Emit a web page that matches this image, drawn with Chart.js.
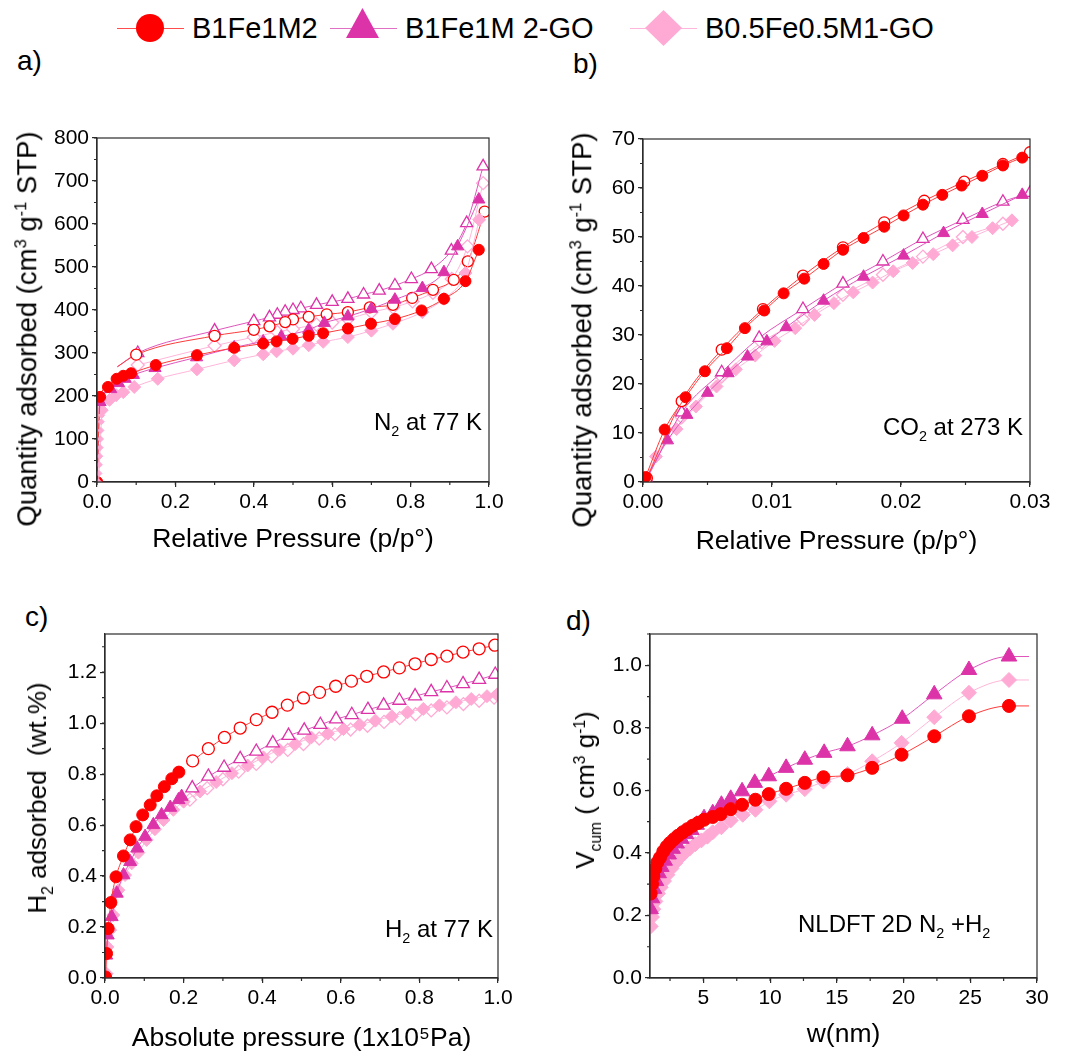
<!DOCTYPE html>
<html>
<head>
<meta charset="utf-8">
<script src="https://cdn.jsdelivr.net/npm/chart.js@4.4.1/dist/chart.umd.min.js"></script>
<style>
	body {
		margin: 0;
		width: 1070px;
		height: 1053px;
		position: relative;
		overflow: hidden;
		background: #fff;
		color: #000;
		font-family: 'Liberation Sans', Arial, sans-serif;
	}
	canvas { position: absolute; }
	.txt { position: absolute; white-space: nowrap; }
	.legend-text { font-size: 29px; line-height: 29px; top: 14px; }
	.panel-label { font-size: 28px; line-height: 28px; }
	.note { font-size: 24px; line-height: 24px; }
	.ytitle {
		position: absolute;
		font-size: 26px;
		line-height: 26px;
		white-space: nowrap;
		transform: translate(-50%, -50%) rotate(-90deg);
	}
	.ytitle.big { font-size: 27.5px; line-height: 27.5px; }
	sup { font-size: 0.6em; vertical-align: 0.6em; line-height: 0; }
	sub { font-size: 0.6em; vertical-align: -0.45em; line-height: 0; }
	.leg-line { position: absolute; height: 1px; top: 28px; width: 67px; }
	.mark { position: absolute; }
</style>
</head>
<body>

<div class="leg-line" style="left:117px;background:#ff4d4d"></div>
<div class="mark" style="left:136px;top:14px;width:28px;height:28px;border-radius:50%;background:#ff0000"></div>
<div class="txt legend-text" style="left:192px">B1Fe1M2</div>
<div class="leg-line" style="left:330px;background:#e070c4"></div>
<div class="mark" style="left:346px;top:8px;width:33px;height:30px;background:#dd33a8;clip-path:polygon(50% 0,100% 100%,0 100%)"></div>
<div class="txt legend-text" style="left:405px">B1Fe1M 2-GO</div>
<div class="leg-line" style="left:630px;background:#ffb6da"></div>
<div class="mark" style="left:645px;top:10px;width:37px;height:36px;background:#ffaad4;clip-path:polygon(50% 0,100% 50%,50% 100%,0 50%)"></div>
<div class="txt legend-text" style="left:705px">B0.5Fe0.5M1-GO</div>

<div class="txt panel-label" style="left:17px;top:47px">a)</div>
<div class="txt panel-label" style="left:573px;top:50px">b)</div>
<div class="txt panel-label" style="left:25px;top:603px">c)</div>
<div class="txt panel-label" style="left:566px;top:607px">d)</div>

<canvas id="chart-n2" width="530" height="480" style="left:0;top:100px"></canvas>
<canvas id="chart-co2" width="540" height="480" style="left:530px;top:100px"></canvas>
<canvas id="chart-h2" width="530" height="463" style="left:0;top:590px"></canvas>
<canvas id="chart-dft" width="540" height="463" style="left:530px;top:590px"></canvas>

<div class="ytitle big" style="left:27px;top:329px">Quantity adsorbed (cm<sup>3</sup> g<sup>-1</sup> STP)</div>
<div class="ytitle big" style="left:582px;top:330px">Quantity adsorbed (cm<sup>3</sup> g<sup>-1</sup> STP)</div>
<div class="ytitle" style="left:37px;top:798px">H<sub>2</sub> adsorbed&nbsp; (wt.%)</div>
<div class="ytitle" style="left:585px;top:790px">V<sub>cum</sub> ( cm<sup>3</sup> g<sup>-1</sup>)</div>

<div class="txt note" style="right:588px;top:410px">N<sub>2</sub> at 77 K</div>
<div class="txt note" style="right:47px;top:415px">CO<sub>2</sub> at 273 K</div>
<div class="txt note" style="right:577px;top:917px">H<sub>2</sub> at 77 K</div>
<div class="txt note" style="left:798px;top:912px">NLDFT 2D N<sub>2</sub> +H<sub>2</sub></div>

<script>
// a) N2 at 77 K  [p/p0, cm3/g]
const n2PinkLow = [[0.004, 0], [0.005, 20], [0.006, 40], [0.007, 60], [0.008, 80], [0.009, 100], [0.01, 120], [0.011, 140], [0.012, 155]]
const n2RedAds = [[0.0005, 0], [0.008, 198], [0.028, 221], [0.05, 240], [0.067, 247], [0.087, 253], [0.15, 272], [0.255, 295], [0.35, 312], [0.424, 322], [0.458, 327], [0.499, 333], [0.54, 340], [0.577, 346], [0.64, 357], [0.699, 368], [0.76, 379], [0.828, 399], [0.885, 426], [0.94, 467], [0.974, 540]]
const n2RedDes = [[0.989, 629], [0.946, 513], [0.91, 470], [0.857, 447], [0.804, 428], [0.755, 412], [0.696, 406], [0.64, 395], [0.586, 390], [0.54, 384], [0.5, 378], [0.48, 372], [0.44, 362], [0.4, 354], [0.3, 340], [0.1, 296]]
const n2PurpleAds = [[0.0005, 0], [0.008, 186], [0.035, 216], [0.055, 230], [0.072, 240], [0.093, 249], [0.148, 265], [0.254, 290], [0.35, 313], [0.424, 327], [0.47, 338], [0.54, 354], [0.58, 370], [0.64, 385], [0.7, 403], [0.76, 424], [0.83, 451], [0.885, 488], [0.92, 548], [0.974, 657]]
const n2PurpleDes = [[0.985, 734], [0.943, 602], [0.904, 538], [0.853, 495], [0.802, 472], [0.76, 457], [0.72, 445], [0.68, 436], [0.64, 426], [0.6, 419], [0.56, 412], [0.52, 404], [0.5, 400], [0.48, 396], [0.46, 389], [0.44, 383], [0.4, 374], [0.3, 352], [0.104, 300]]
const n2PinkAds = [[0.012, 167], [0.032, 191], [0.049, 202], [0.067, 209], [0.095, 221], [0.155, 240], [0.255, 262], [0.35, 283], [0.424, 297], [0.458, 304], [0.5, 310], [0.54, 318], [0.577, 326], [0.64, 337], [0.7, 352], [0.755, 368], [0.83, 395], [0.885, 426], [0.94, 486], [0.975, 610]]
const n2PinkDes = [[0.985, 695], [0.945, 548], [0.905, 472], [0.857, 440], [0.805, 420], [0.755, 406], [0.7, 395], [0.64, 379], [0.6, 371], [0.56, 366], [0.5, 356], [0.46, 349], [0.4, 337], [0.3, 317], [0.104, 272]]
// desorption branches close near p/p0 = 0.05 (line only, no marker)
const n2DesClose = { red: [0.052, 268], purple: [0.052, 268] }

// b) CO2 at 273 K
const co2RedAds = [[0.0002, 1], [0.00168, 10.7], [0.0033, 17.3], [0.0048, 22.6], [0.0065, 27.3], [0.0079, 31.4], [0.0094, 35.0], [0.0109, 38.5], [0.0125, 41.5], [0.014, 44.5], [0.0155, 47.4], [0.0171, 49.8], [0.0187, 52.1], [0.0202, 54.4], [0.0217, 56.6], [0.0232, 58.6], [0.0247, 60.5], [0.0263, 62.5], [0.0279, 64.6], [0.0294, 66.2]]
const co2RedDes = [[0.03, 67.3], [0.0279, 64.9], [0.0249, 61.3], [0.0218, 57.4], [0.0187, 53.0], [0.0155, 47.9], [0.0124, 42.1], [0.0093, 35.3], [0.0061, 27.0], [0.003, 16.5], [0.0003, 0.8]]
const co2PurpleAds = [[0.0002, 0.5], [0.0019, 8.5], [0.0034, 13.7], [0.005, 18.2], [0.0066, 22.2], [0.0081, 25.6], [0.0096, 28.7], [0.0111, 31.6], [0.014, 37.0], [0.0171, 41.9], [0.0202, 46.2], [0.0233, 50.8], [0.0263, 54.7], [0.0294, 58.6]]
const co2PurpleDes = [[0.03, 59], [0.0279, 57.2], [0.0248, 53.5], [0.0217, 49.6], [0.0186, 45.0], [0.0155, 40.5], [0.0124, 35.3], [0.009, 29.4], [0.0061, 22.4], [0.003, 14.2], [0.0003, 0.6]]
const co2PinkAds = [[0.0002, 0.4], [0.001, 5.2], [0.0026, 10.8], [0.0041, 15.4], [0.0057, 19.5], [0.0072, 23.0], [0.0087, 25.8], [0.0102, 28.8], [0.0118, 31.4], [0.0133, 34.1], [0.0148, 36.5], [0.0163, 38.7], [0.0178, 40.7], [0.0194, 43.0], [0.0209, 44.7], [0.0225, 46.5], [0.024, 48.3], [0.0255, 50.0], [0.0271, 51.8], [0.0286, 53.4]]
const co2PinkDes = [[0.0279, 52.7], [0.0248, 50.0], [0.0217, 46.0], [0.0186, 42.3], [0.0155, 38.2], [0.0124, 33.2], [0.0092, 28.5], [0.0061, 21.5], [0.003, 13.2]]

// c) H2 at 77 K  [1e5 Pa, wt.%]
const h2RedAds = [[0.0015, 0.004], [0.004, 0.096], [0.008, 0.194], [0.015, 0.296], [0.028, 0.397], [0.047, 0.479], [0.064, 0.542], [0.079, 0.594], [0.096, 0.64], [0.115, 0.679], [0.132, 0.715], [0.151, 0.751], [0.17, 0.782], [0.188, 0.808]]
const h2RedOpen = [[0.223, 0.852], [0.263, 0.9], [0.304, 0.944], [0.344, 0.981], [0.385, 1.014], [0.425, 1.043], [0.464, 1.071], [0.505, 1.099], [0.546, 1.121], [0.587, 1.145], [0.627, 1.165], [0.666, 1.184], [0.709, 1.201], [0.749, 1.217], [0.789, 1.233], [0.83, 1.25], [0.87, 1.263], [0.911, 1.279], [0.952, 1.292], [0.992, 1.306]]
const h2PurpleAds = [[0.003, 0.089], [0.007, 0.168], [0.017, 0.24], [0.03, 0.332], [0.047, 0.404], [0.064, 0.456], [0.082, 0.509], [0.102, 0.555], [0.123, 0.601], [0.144, 0.64], [0.166, 0.669], [0.187, 0.699], [0.195, 0.712]]
const h2PurpleOpen = [[0.222, 0.745], [0.263, 0.791], [0.303, 0.826], [0.344, 0.86], [0.385, 0.889], [0.427, 0.922], [0.467, 0.951], [0.507, 0.972], [0.548, 0.994], [0.588, 1.016], [0.628, 1.033], [0.669, 1.053], [0.709, 1.07], [0.749, 1.089], [0.789, 1.106], [0.83, 1.123], [0.87, 1.138], [0.911, 1.154], [0.952, 1.171], [0.993, 1.191]]
const h2PinkAds = [[0.004, 0.017], [0.006, 0.122], [0.013, 0.188], [0.021, 0.247], [0.034, 0.345], [0.051, 0.404], [0.068, 0.45], [0.085, 0.492], [0.106, 0.542], [0.127, 0.584], [0.149, 0.62], [0.174, 0.66], [0.2, 0.692], [0.242, 0.732], [0.283, 0.769], [0.323, 0.804], [0.363, 0.834], [0.403, 0.866], [0.444, 0.896], [0.484, 0.918], [0.525, 0.944], [0.567, 0.959], [0.607, 0.977], [0.648, 0.994], [0.688, 1.01], [0.73, 1.027], [0.77, 1.043], [0.81, 1.056], [0.851, 1.07], [0.893, 1.082], [0.932, 1.095], [0.972, 1.106], [0.997, 1.112]]
const h2PinkOpen = [[0.216, 0.7], [0.26, 0.745], [0.3, 0.78], [0.34, 0.81], [0.385, 0.84], [0.424, 0.87], [0.465, 0.895], [0.505, 0.918], [0.545, 0.94], [0.585, 0.957], [0.625, 0.975], [0.668, 0.99], [0.71, 1.005], [0.75, 1.02], [0.79, 1.035], [0.83, 1.05], [0.87, 1.062], [0.912, 1.075], [0.952, 1.088], [0.99, 1.1]]

// d) NLDFT cumulative pore volume  [nm, cm3/g]
const dftRed = [[1.05, 0.27], [1.15, 0.3], [1.25, 0.325], [1.4, 0.35], [1.55, 0.37], [1.75, 0.385], [2.0, 0.405], [2.25, 0.42], [2.5, 0.432], [2.8, 0.444], [3.1, 0.455], [3.45, 0.466], [3.8, 0.476], [4.2, 0.487], [4.6, 0.496], [5.05, 0.506], [5.7, 0.515], [6.3, 0.524], [7.05, 0.54], [7.9, 0.554], [8.9, 0.57], [9.9, 0.588], [11.2, 0.605], [12.6, 0.624], [14.0, 0.642], [15.8, 0.648], [17.65, 0.672], [19.85, 0.714], [22.3, 0.773], [24.9, 0.837], [27.9, 0.87]]
const dftPurple = [[1.05, 0.22], [1.15, 0.255], [1.3, 0.285], [1.45, 0.31], [1.65, 0.335], [1.85, 0.355], [2.1, 0.375], [2.4, 0.395], [2.7, 0.413], [3.0, 0.43], [3.35, 0.445], [3.7, 0.46], [4.1, 0.473], [4.5, 0.49], [5.05, 0.511], [5.7, 0.527], [6.35, 0.554], [7.05, 0.573], [7.9, 0.597], [8.85, 0.624], [9.9, 0.645], [11.2, 0.672], [12.6, 0.698], [14.05, 0.72], [15.8, 0.741], [17.65, 0.776], [19.9, 0.829], [22.3, 0.907], [24.9, 0.985], [27.9, 1.028]]
const dftPink = [[1.05, 0.165], [1.15, 0.195], [1.25, 0.22], [1.4, 0.245], [1.6, 0.27], [1.8, 0.29], [2.05, 0.31], [2.3, 0.33], [2.6, 0.35], [2.9, 0.368], [3.25, 0.385], [3.6, 0.4], [4.0, 0.415], [4.4, 0.428], [4.85, 0.44], [5.3, 0.452], [5.7, 0.466], [6.35, 0.482], [7.05, 0.504], [7.95, 0.522], [8.9, 0.538], [9.95, 0.565], [11.2, 0.586], [12.6, 0.604], [14.0, 0.628], [15.8, 0.652], [17.65, 0.693], [19.85, 0.752], [22.3, 0.834], [24.9, 0.912], [27.9, 0.953]]
const dftFitEnd = 29.4

// axis ticks
const n2XTicks = [0, 0.2, 0.4, 0.6, 0.8, 1.0]
const n2YTicks = [0, 100, 200, 300, 400, 500, 600, 700, 800]
const co2XTicks = [0, 0.01, 0.02, 0.03]
const co2YTicks = [0, 10, 20, 30, 40, 50, 60, 70]
const h2XTicks = [0, 0.2, 0.4, 0.6, 0.8, 1.0]
const h2YTicks = [0, 0.2, 0.4, 0.6, 0.8, 1.0, 1.2]
const dftXTicks = [5, 10, 15, 20, 25, 30]
const dftYTicks = [0, 0.2, 0.4, 0.6, 0.8, 1.0]

const FONT = "'Liberation Sans', Arial, sans-serif"
const AXIS = '#2b2b2b'
const RED = '#ff0000'
const RED_LINE = '#ff3b3b'
const MAG = '#dd33a8'
const MAG_LINE = '#df55bb'
const PINK = '#ffaad4'
const PINK_LINE = '#ffb6da'

const minorValues = (scale, step) => {
	const out = []
	if (!step) return out
	for (let v = Math.ceil(scale.min / step - 1e-9) * step; v <= scale.max + 1e-9; v += step) {
		out.push(v)
	}
	return out
}

const framePlugin = {
	id: 'frame',
	afterDatasetsDraw(chart, args, opts) {
		const { ctx, chartArea: a, scales } = chart
		ctx.save()
		ctx.strokeStyle = AXIS
		ctx.lineWidth = 1.2
		ctx.strokeRect(a.left, a.top, a.right - a.left, a.bottom - a.top)
		ctx.beginPath()
		minorValues(scales.x, opts.xMinor).forEach((v) => {
			const px = scales.x.getPixelForValue(v)
			ctx.moveTo(px, a.bottom)
			ctx.lineTo(px, a.bottom + 3)
		})
		minorValues(scales.y, opts.yMinor).forEach((v) => {
			const py = scales.y.getPixelForValue(v)
			ctx.moveTo(a.left, py)
			ctx.lineTo(a.left - 3, py)
		})
		ctx.stroke()
		ctx.restore()
	},
}

// tail: extra [x, y] at the end of the curve drawn as line only
function series(points, color, lineColor, shape, radius, filled, tail) {
	const data = points.map(([x, y]) => ({ x, y }))
	if (tail) data.push({ x: tail[0], y: tail[1] })
	return {
		data,
		showLine: true,
		borderColor: lineColor,
		borderWidth: 1,
		cubicInterpolationMode: 'monotone',
		pointStyle: shape,
		pointRadius: tail ? (c) => (c.dataIndex === points.length ? 0 : radius) : radius,
		pointHoverRadius: radius,
		pointBackgroundColor: filled ? color : '#ffffff',
		pointBorderColor: color,
		pointBorderWidth: filled ? 1 : 1.3,
	}
}

const flatTail = (points, x) => [x, points[points.length - 1][1]]

function axis(a, horizontal) {
	return {
		type: 'linear',
		min: a.min,
		max: a.max,
		afterBuildTicks: (s) => {
			s.ticks = a.ticks.map((value) => ({ value }))
		},
		afterFit: (s) => {
			if (horizontal) s.height = a.size
			else s.width = a.size
		},
		ticks: {
			color: '#000',
			font: { family: FONT, size: 21 },
			padding: 3,
			maxRotation: 0,
			autoSkip: false,
			callback: (v) => a.fmt(v),
		},
		grid: { drawOnChartArea: false, drawTicks: true, tickLength: 5, color: AXIS, lineWidth: 1.2 },
		border: { display: true, color: AXIS, width: 1.2 },
		title: a.title
			? {
					display: true,
					text: a.title,
					color: '#000',
					font: { family: FONT, size: 26.5, lineHeight: 1 },
					padding: { top: 0, bottom: a.titlePad },
				}
			: { display: false },
	}
}

function makePanel(id, cfg) {
	new Chart(document.getElementById(id), {
		type: 'scatter',
		data: { datasets: cfg.datasets },
		options: {
			responsive: false,
			animation: false,
			devicePixelRatio: 1,
			layout: { padding: { left: 0, top: cfg.top, right: cfg.right, bottom: 0 } },
			plugins: {
				legend: { display: false },
				tooltip: { enabled: false },
				frame: { xMinor: cfg.x.minor, yMinor: cfg.y.minor },
			},
			scales: {
				x: axis(cfg.x, true),
				y: axis(cfg.y, false),
			},
		},
		plugins: [framePlugin],
	})
}

makePanel('chart-n2', {
	top: 38,
	right: 41,
	x: { min: 0, max: 1, ticks: n2XTicks, minor: 0.1, size: 98, fmt: (v) => v.toFixed(1), title: 'Relative Pressure (p/p°)', titlePad: 27 },
	y: { min: 0, max: 800, ticks: n2YTicks, minor: 50, size: 97, fmt: (v) => String(v) },
	datasets: [
		series(n2PinkLow, PINK, PINK_LINE, 'rectRot', 3, true),
		series(n2RedAds, RED, RED_LINE, 'circle', 5.5, true),
		series(n2PurpleAds, MAG, MAG_LINE, 'triangle', 7, true),
		series(n2PinkAds, PINK, PINK_LINE, 'rectRot', 6.5, true),
		series(n2RedDes, RED, RED_LINE, 'circle', 5.5, false, n2DesClose.red),
		series(n2PurpleDes, MAG, MAG_LINE, 'triangle', 7, false, n2DesClose.purple),
		series(n2PinkDes, PINK, PINK_LINE, 'rectRot', 6.5, false),
	],
})

makePanel('chart-co2', {
	top: 39,
	right: 40,
	x: { min: 0, max: 0.03, ticks: co2XTicks, minor: 0.005, size: 98, fmt: (v) => v.toFixed(2), title: 'Relative Pressure (p/p°)', titlePad: 25 },
	y: { min: 0, max: 70, ticks: co2YTicks, minor: 5, size: 113, fmt: (v) => String(v) },
	datasets: [
		series(co2RedAds, RED, RED_LINE, 'circle', 5.5, true),
		series(co2RedDes, RED, RED_LINE, 'circle', 5.5, false),
		series(co2PurpleAds, MAG, MAG_LINE, 'triangle', 7, true),
		series(co2PurpleDes, MAG, MAG_LINE, 'triangle', 7, false),
		series(co2PinkAds, PINK, PINK_LINE, 'rectRot', 6.5, true),
		series(co2PinkDes, PINK, PINK_LINE, 'rectRot', 6.5, false),
	],
})

makePanel('chart-h2', {
	top: 44,
	right: 32,
	x: { min: 0, max: 1, ticks: h2XTicks, minor: 0.1, size: 75, fmt: (v) => v.toFixed(1), title: 'Absolute pressure (1x10⁵Pa)', titlePad: 1 },
	y: { min: 0, max: 1.35, ticks: h2YTicks, minor: 0.1, size: 105, fmt: (v) => v.toFixed(1) },
	datasets: [
		series(h2RedAds, RED, RED_LINE, 'circle', 6, true),
		series(h2RedOpen, RED, RED_LINE, 'circle', 6, false),
		series(h2PurpleAds, MAG, MAG_LINE, 'triangle', 7.5, true),
		series(h2PurpleOpen, MAG, MAG_LINE, 'triangle', 7.5, false),
		series(h2PinkAds, PINK, PINK_LINE, 'rectRot', 6.5, true),
		series(h2PinkOpen, PINK, PINK_LINE, 'rectRot', 6.5, false),
	],
})

makePanel('chart-dft', {
	top: 44,
	right: 33,
	x: { min: 1, max: 30, ticks: dftXTicks, minor: 2.5, size: 75, fmt: (v) => String(v), title: 'w(nm)', titlePad: 5 },
	y: { min: 0, max: 1.1, ticks: dftYTicks, minor: 0.1, size: 120, fmt: (v) => v.toFixed(1) },
	datasets: [
		series(dftRed, RED, RED_LINE, 'circle', 6.5, true, flatTail(dftRed, dftFitEnd)),
		series(dftPurple, MAG, MAG_LINE, 'triangle', 9, true, flatTail(dftPurple, dftFitEnd)),
		series(dftPink, PINK, PINK_LINE, 'rectRot', 7.5, true, flatTail(dftPink, dftFitEnd)),
	],
})
</script>
</body>
</html>
